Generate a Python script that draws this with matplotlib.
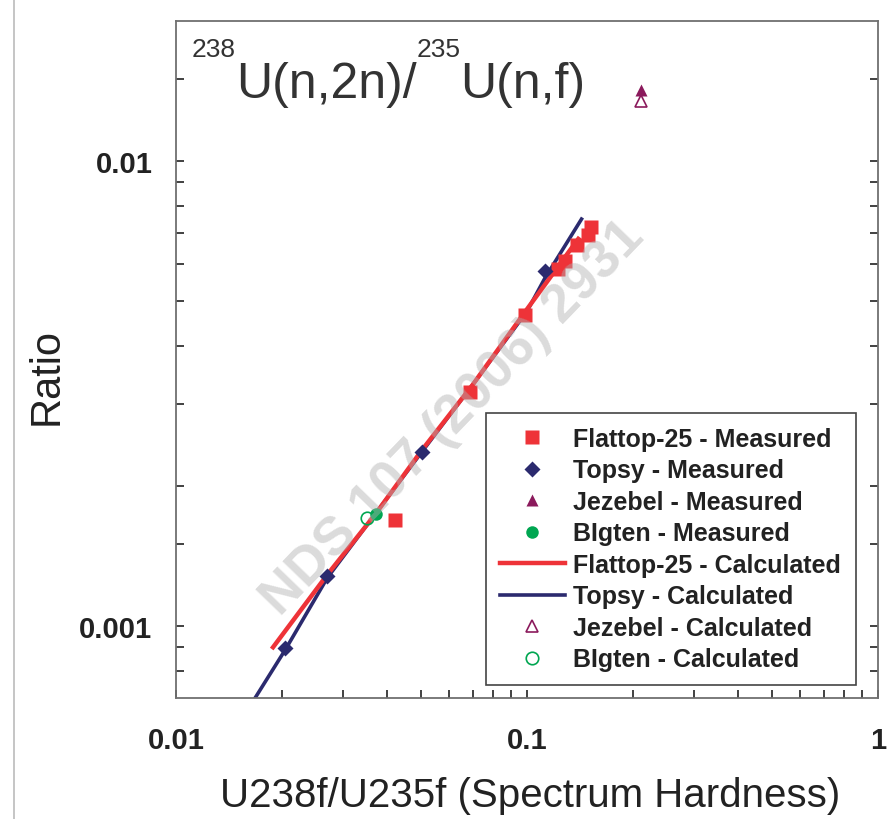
import numpy as np
import matplotlib
matplotlib.use("Agg")
import matplotlib.pyplot as plt
from matplotlib import ticker
from matplotlib.lines import Line2D
from matplotlib.transforms import IdentityTransform

# measured points
flattop_x = [0.0422, 0.069, 0.0987, 0.1225, 0.128, 0.139, 0.149, 0.152]
flattop_y = [0.00169, 0.00319, 0.00467, 0.00586, 0.00610, 0.00660, 0.00694, 0.00722]
topsy_x = [0.0205, 0.0270, 0.0503, 0.1125]
topsy_y = [0.000897, 0.00128, 0.00237, 0.00581]
jezebel_x = [0.211]
jezebel_y = [0.0142]
bigten_x = [0.0372]
bigten_y = [0.00174]

# calculated
flattop_calc_x = [0.0189, 0.027, 0.037, 0.050, 0.070, 0.100, 0.140]
flattop_calc_y = [0.00090, 0.00129, 0.00174, 0.00238, 0.00330, 0.00480, 0.00680]
topsy_calc_x = [0.0160, 0.0205, 0.027, 0.050, 0.070, 0.100, 0.1125, 0.143]
topsy_calc_y = [0.00066, 0.00089, 0.00127, 0.00236, 0.00330, 0.00475, 0.00560, 0.0075]
jezebel_calc_x = [0.211]
jezebel_calc_y = [0.01345]
bigten_calc_x = [0.0351]
bigten_calc_y = [0.00171]

x_major = [0.01, 0.1, 1]
x_major_labels = ["0.01", "0.1", "1"]
y_major = [0.001, 0.01]
y_major_labels = ["0.001", "0.01"]
y_minor = [0.0008, 0.0009, 0.0015, 0.002, 0.003, 0.004, 0.005, 0.006, 0.007,
           0.008, 0.009, 0.015]

RED = "#ee3338"
NAVY = "#2b2a6e"
MAROON = "#8b1a5c"
GREEN = "#00a651"

plt.rcParams["font.family"] = ["Liberation Sans", "DejaVu Sans"]

fig = plt.figure(figsize=(8.9, 8.2), dpi=100)
ax = fig.add_axes([176 / 890, 1 - 699 / 820, 702 / 890, 677 / 820])

# watermark, semi-transparent over the data
ax.text(0.395, 0.415, "NDS 107 (2006) 2931", transform=ax.transAxes, rotation=46,
        fontsize=39, fontweight="bold", color="#b0b0b0", alpha=0.45,
        ha="center", va="center", zorder=4.5)

ax.plot(topsy_calc_x, topsy_calc_y, color=NAVY, lw=2.6, label="Topsy - Calculated", zorder=2)
ax.plot(flattop_calc_x, flattop_calc_y, color=RED, lw=3.2, label="Flattop-25 - Calculated", zorder=3)

ax.plot(flattop_x, flattop_y, "s", color=RED, ms=10, mec="none", label="Flattop-25 - Measured", zorder=4)
ax.plot(topsy_x, topsy_y, "D", color=NAVY, ms=8, mec="none", label="Topsy - Measured", zorder=4)
ax.plot(jezebel_x, jezebel_y, "^", color=MAROON, ms=9, mec="none", label="Jezebel - Measured", zorder=4)
ax.plot(bigten_x, bigten_y, "o", color=GREEN, ms=9, mec="none", label="BIgten - Measured", zorder=4)
ax.plot(jezebel_calc_x, jezebel_calc_y, "^", mfc="none", mec=MAROON, mew=1.2, ms=9,
        label="Jezebel - Calculated", zorder=4)
ax.plot(bigten_calc_x, bigten_calc_y, "o", mfc="none", mec=GREEN, mew=1.2, ms=9,
        label="BIgten - Calculated", zorder=3)

ax.set_xscale("log")
ax.set_yscale("log")
ax.set_xlim(0.01, 1)
ax.set_ylim(0.0007, 0.02)

ax.xaxis.set_major_locator(ticker.FixedLocator(x_major))
ax.xaxis.set_major_formatter(ticker.FixedFormatter(x_major_labels))
ax.xaxis.set_minor_locator(ticker.LogLocator(base=10, subs=np.arange(2, 10)))
ax.xaxis.set_minor_formatter(ticker.NullFormatter())
ax.yaxis.set_major_locator(ticker.FixedLocator(y_major))
ax.yaxis.set_major_formatter(ticker.FixedFormatter(y_major_labels))
ax.yaxis.set_minor_locator(ticker.FixedLocator(y_minor))
ax.yaxis.set_minor_formatter(ticker.NullFormatter())

ax.tick_params(which="both", direction="in", length=6, width=1.3, color="#333333",
               top=False, right=True)
ax.tick_params(axis="x", which="major", pad=20)
ax.tick_params(axis="y", which="major", pad=17)
for lab in ax.get_xticklabels() + ax.get_yticklabels():
    lab.set_fontweight("bold")
    lab.set_fontsize(21)
    lab.set_color("#222222")
for sp in ax.spines.values():
    sp.set_color("#707070")
    sp.set_linewidth(1.3)

ax.set_xlabel("U238f/U235f (Spectrum Hardness)", fontsize=29, color="#222222")
ax.xaxis.set_label_coords(0.504, -0.143)
ax.xaxis.label.set_va("center")
ax.set_ylabel("Ratio", fontsize=30, color="#222222")
ax.yaxis.set_label_coords(-0.185, 0.476)
ax.yaxis.label.set_va("center")

order = ["Flattop-25 - Measured", "Topsy - Measured", "Jezebel - Measured",
         "BIgten - Measured", "Flattop-25 - Calculated", "Topsy - Calculated",
         "Jezebel - Calculated", "BIgten - Calculated"]
handles, labels = ax.get_legend_handles_labels()
lookup = dict(zip(labels, handles))
leg = ax.legend([lookup[k] for k in order], order, loc="lower left",
                bbox_to_anchor=(0.4416, 0.0192, 0.527, 0.4077), mode="expand",
                prop={"weight": "bold", "size": 18}, frameon=True, fancybox=False,
                edgecolor="#444444", framealpha=1, labelspacing=0.3, handlelength=2.6,
                handletextpad=0.32, borderpad=0.55, borderaxespad=0)
leg.set_zorder(6)
leg.get_frame().set_linewidth(1.2)
for t in leg.get_texts():
    t.set_color("#222222")

# thin grey border line on the left of the picture
fig.add_artist(Line2D([14 / 890, 14 / 890], [0, 1], color="#bbbbbb", lw=1.2))

# title with superscripts, placed piece by piece in pixel coordinates
fig.canvas.draw()
renderer = fig.canvas.get_renderer()
pieces = [("238", 19, 763), ("U(n,2n)/", 36, 722), ("235", 19, 763), ("U(n,f)", 36, 722)]
x = 192
for txt, size, base in pieces:
    t = fig.text(x, base, txt, fontsize=size, color="#333333",
                 va="baseline", ha="left", transform=IdentityTransform())
    x = t.get_window_extent(renderer).x1

fig.savefig("out.png", dpi=100, facecolor="white")
